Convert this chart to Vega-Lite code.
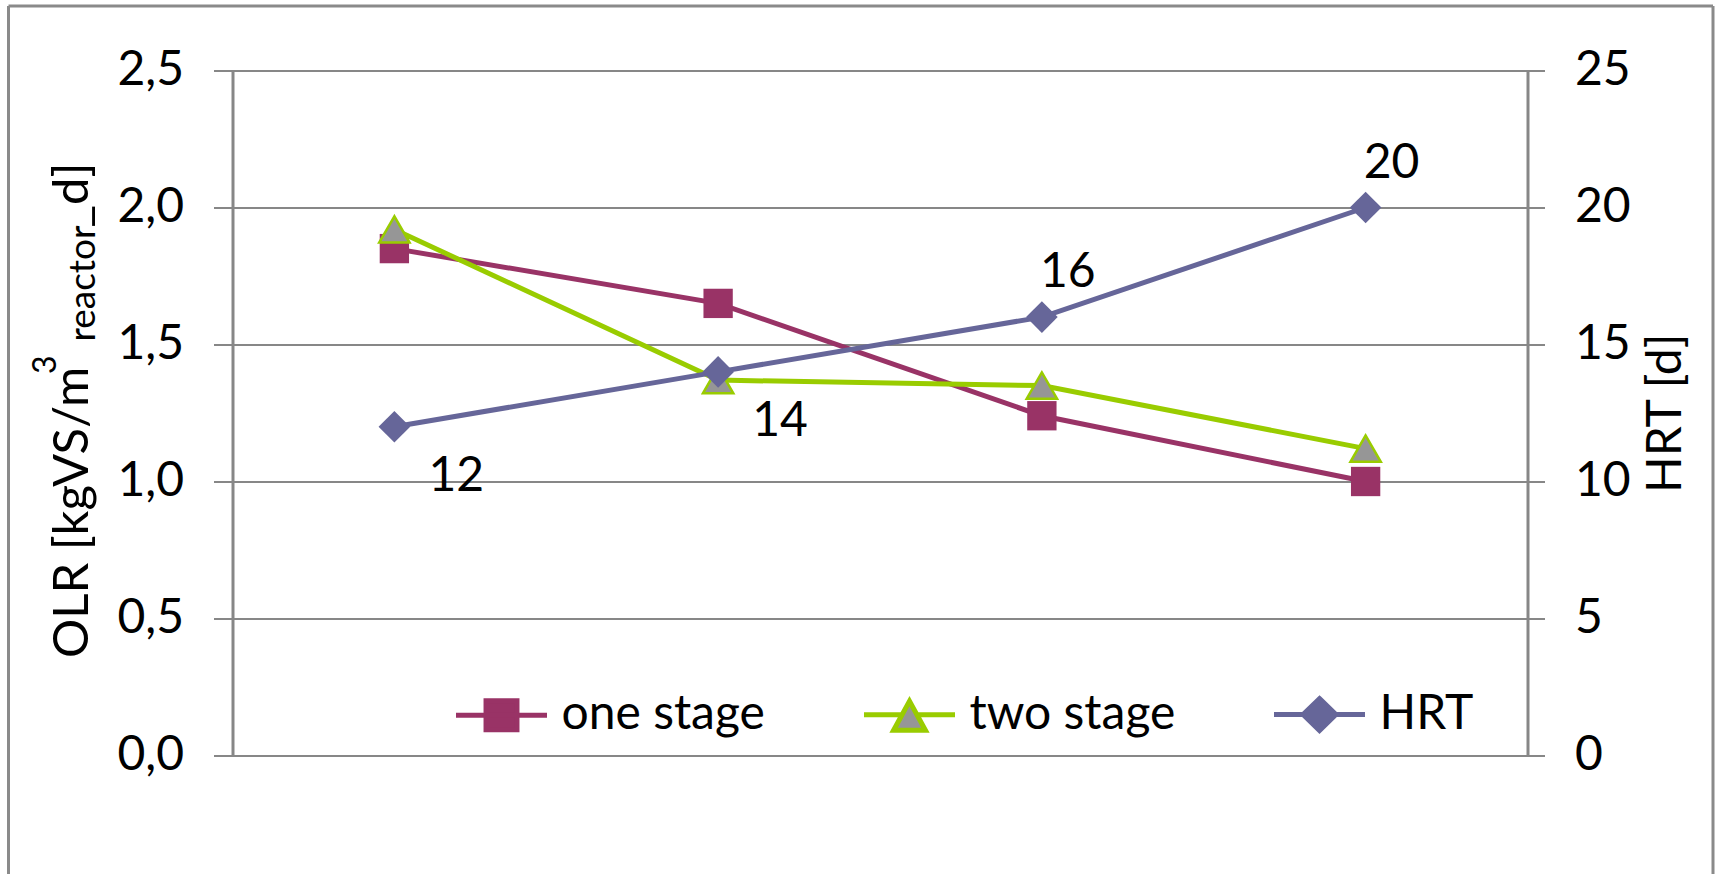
{
  "$schema": "https://vega.github.io/schema/vega-lite/v6.json",
  "width": 1295,
  "height": 685,
  "autosize": {"type": "none"},
  "padding": {"left": 232.5, "top": 70.5, "right": 189.5, "bottom": 118.5},
  "background": "white",
  "config": {
    "view": {"stroke": null},
    "font": "Lato",
    "axis": {
      "labelFont": "Lato",
      "titleFont": "Lato",
      "labelColor": "#000000",
      "titleColor": "#000000",
      "titleFontWeight": "normal",
      "domainColor": "#878787",
      "tickColor": "#878787",
      "gridColor": "#878787"
    }
  },
  "data": {
    "values": [
      {"period": 1, "series": "one stage", "value": 1.85},
      {"period": 2, "series": "one stage", "value": 1.65},
      {"period": 3, "series": "one stage", "value": 1.24},
      {"period": 4, "series": "one stage", "value": 1.0},
      {"period": 1, "series": "two stage", "value": 1.92},
      {"period": 2, "series": "two stage", "value": 1.37},
      {"period": 3, "series": "two stage", "value": 1.35},
      {"period": 4, "series": "two stage", "value": 1.12},
      {"period": 1, "series": "HRT", "value": 12},
      {"period": 2, "series": "HRT", "value": 14},
      {"period": 3, "series": "HRT", "value": 16},
      {"period": 4, "series": "HRT", "value": 20}
    ]
  },
  "encoding": {
    "x": {
      "field": "period",
      "type": "ordinal",
      "scale": {"type": "point", "padding": 0.5, "domain": [1, 2, 3, 4]},
      "axis": null
    }
  },
  "layer": [
    {
      "transform": [{"filter": "datum.series === 'one stage'"}],
      "mark": {"type": "point", "opacity": 0},
      "encoding": {
        "x": {
          "field": "period",
          "type": "ordinal",
          "scale": {"type": "point", "padding": 0.5, "domain": [1, 2, 3, 4], "range": [-224.5, 1480]},
          "axis": {"orient": "top", "offset": 65, "labels": false, "ticks": false, "grid": false, "title": null, "domainWidth": 3, "domainColor": "#8a8a8a"}
        },
        "y": {
          "field": "value",
          "type": "quantitative",
          "scale": {"domain": [0, 2.5], "nice": false, "range": [830, -65]},
          "axis": {"orient": "left", "offset": 224.5, "labels": false, "ticks": false, "grid": false, "title": null, "domainWidth": 3, "domainColor": "#8a8a8a"}
        }
      }
    },
    {
      "transform": [{"filter": "datum.series === 'one stage'"}],
      "mark": {"type": "point", "opacity": 0},
      "encoding": {
        "y": {
          "field": "value",
          "type": "quantitative",
          "scale": {"domain": [0, 2.5], "nice": false, "range": [830, -65]},
          "axis": {"orient": "right", "offset": 185, "labels": false, "ticks": false, "grid": false, "title": null, "domainWidth": 3, "domainColor": "#8a8a8a"}
        }
      }
    },
    {
      "transform": [{"filter": "datum.series === 'one stage'"}],
      "mark": {"type": "line", "strokeWidth": 5},
      "encoding": {
        "y": {
          "field": "value",
          "type": "quantitative",
          "scale": {"domain": [0, 2.5], "nice": false},
          "axis": {
            "orient": "left",
            "values": [0, 0.5, 1, 1.5, 2, 2.5],
            "labelExpr": "replace(format(datum.value, '.1f'), '.', ',')",
            "labelFontSize": 48,
            "labelPadding": 30,
            "tickSize": 19,
            "tickWidth": 2,
            "domainWidth": 3,
            "grid": true,
            "gridWidth": 2,
            "title": "OLR [kgVS/m",
            "titleFontSize": 49,
            "titleAngle": 270,
            "titleAlign": "left",
            "titleBaseline": "alphabetic",
            "titleX": -145.5,
            "titleY": 587
          }
        },
        "color": {
          "field": "series",
          "type": "nominal",
          "scale": {
            "domain": ["one stage", "two stage", "HRT"],
            "range": ["#993366", "#99CC00", "#666699"]
          },
          "legend": {
            "orient": "none",
            "legendX": 221,
            "legendY": 596,
            "direction": "horizontal",
            "title": null,
            "padding": 0,
            "labelFont": "Lato",
            "labelFontSize": 48,
            "labelColor": "#000000",
            "labelLimit": 500,
            "labelOffset": 12,
            "columnPadding": 88,
            "symbolSize": 8281,
            "symbolStrokeWidth": 5,
            "encode": {
              "symbols": {
                "update": {
                  "shape": {"signal": "datum.value === 'one stage' ? 'M-1,0H1M-0.34,-0.32H0.34V0.32H-0.34Z' : datum.value === 'two stage' ? 'M-1,0H-0.16M0.16,0H1M0,-0.3L0.35,0.34H-0.35Z' : 'M-1,0H1M0,-0.35L0.36,0L0,0.35L-0.36,0Z'"},
                  "fill": {"signal": "datum.value === 'two stage' ? '#969696' : datum.value === 'one stage' ? '#993366' : '#666699'"},
                  "stroke": {"signal": "datum.value === 'two stage' ? '#99CC00' : datum.value === 'one stage' ? '#993366' : '#666699'"},
                  "fillOpacity": {"value": 1},
                  "strokeOpacity": {"value": 1},
                  "opacity": {"value": 1}
                }
              }
            }
          }
        }
      }
    },
    {
      "transform": [{"filter": "datum.series === 'one stage'"}],
      "mark": {"type": "point", "shape": "square", "filled": true, "size": 860, "color": "#993366", "opacity": 1},
      "encoding": {
        "y": {"field": "value", "type": "quantitative", "scale": {"domain": [0, 2.5], "nice": false}, "axis": null}
      }
    },
    {
      "transform": [{"filter": "datum.series === 'two stage'"}],
      "mark": {"type": "line", "strokeWidth": 5},
      "encoding": {
        "y": {"field": "value", "type": "quantitative", "scale": {"domain": [0, 2.5], "nice": false}, "axis": null},
        "color": {"field": "series", "type": "nominal"}
      }
    },
    {
      "transform": [{"filter": "datum.series === 'two stage'"}],
      "mark": {"type": "point", "shape": "triangle-up", "filled": true, "size": 920, "fill": "#969696", "stroke": "#99CC00", "strokeWidth": 2.5, "opacity": 1},
      "encoding": {
        "y": {"field": "value", "type": "quantitative", "scale": {"domain": [0, 2.5], "nice": false}, "axis": null}
      }
    },
    {
      "transform": [{"filter": "datum.series === 'HRT'"}],
      "mark": {"type": "line", "strokeWidth": 5},
      "encoding": {
        "y": {
          "field": "value",
          "type": "quantitative",
          "scale": {"domain": [0, 25], "nice": false},
          "axis": {
            "orient": "right",
            "values": [0, 5, 10, 15, 20, 25],
            "labelFontSize": 48,
            "labelPadding": 30,
            "tickSize": 17,
            "tickWidth": 2,
            "domainWidth": 3,
            "grid": false,
            "title": "HRT [d]",
            "titleFontSize": 48,
            "titleAngle": 270,
            "titleAlign": "left",
            "titleBaseline": "alphabetic",
            "titleX": 152.5,
            "titleY": 422
          }
        },
        "color": {"field": "series", "type": "nominal"}
      }
    },
    {
      "transform": [{"filter": "datum.series === 'HRT'"}],
      "mark": {"type": "point", "shape": "diamond", "filled": true, "size": 1000, "color": "#666699", "opacity": 1},
      "encoding": {
        "y": {"field": "value", "type": "quantitative", "scale": {"domain": [0, 25], "nice": false}, "axis": null}
      }
    },
    {
      "transform": [{"filter": "datum.series === 'HRT' && datum.value <= 14"}],
      "mark": {"type": "text", "font": "Lato", "fontSize": 48, "color": "#000000", "align": "center", "baseline": "middle", "dx": 62, "dy": 50},
      "encoding": {
        "y": {"field": "value", "type": "quantitative", "scale": {"domain": [0, 25], "nice": false}, "axis": null},
        "text": {"field": "value", "type": "quantitative", "format": "d"}
      }
    },
    {
      "transform": [{"filter": "datum.series === 'HRT' && datum.value > 14"}],
      "mark": {"type": "text", "font": "Lato", "fontSize": 48, "color": "#000000", "align": "center", "baseline": "middle", "dx": 26, "dy": -44},
      "encoding": {
        "y": {"field": "value", "type": "quantitative", "scale": {"domain": [0, 25], "nice": false}, "axis": null},
        "text": {"field": "value", "type": "quantitative", "format": "d"}
      }
    },
    {
      "transform": [{"filter": "datum.series === 'one stage'"}],
      "mark": {"type": "point", "opacity": 0},
      "encoding": {
        "y": {
          "field": "value", "type": "quantitative", "scale": {"domain": [0, 2.5], "nice": false},
          "axis": {"orient": "left", "labels": false, "ticks": false, "domain": false, "grid": false,
            "title": "3", "titleFontSize": 32, "titleAngle": 270, "titleAlign": "left", "titleBaseline": "alphabetic",
            "titleX": -177, "titleY": 303}
        }
      }
    },
    {
      "transform": [{"filter": "datum.series === 'one stage'"}],
      "mark": {"type": "point", "opacity": 0},
      "encoding": {
        "y": {
          "field": "value", "type": "quantitative", "scale": {"domain": [0, 2.5], "nice": false},
          "axis": {"orient": "left", "labels": false, "ticks": false, "domain": false, "grid": false,
            "title": "reactor", "titleFontSize": 37, "titleAngle": 270, "titleAlign": "left", "titleBaseline": "alphabetic",
            "titleX": -138.5, "titleY": 270.5}
        }
      }
    },
    {
      "transform": [{"filter": "datum.series === 'one stage'"}],
      "mark": {"type": "point", "opacity": 0},
      "encoding": {
        "y": {
          "field": "value", "type": "quantitative", "scale": {"domain": [0, 2.5], "nice": false},
          "axis": {"orient": "left", "labels": false, "ticks": false, "domain": false, "grid": false,
            "title": "_d]", "titleFontSize": 49, "titleAngle": 270, "titleAlign": "left", "titleBaseline": "alphabetic",
            "titleX": -145.5, "titleY": 156.5}
        }
      }
    }
  ],
  "resolve": {"scale": {"x": "independent", "y": "independent"}}
}
